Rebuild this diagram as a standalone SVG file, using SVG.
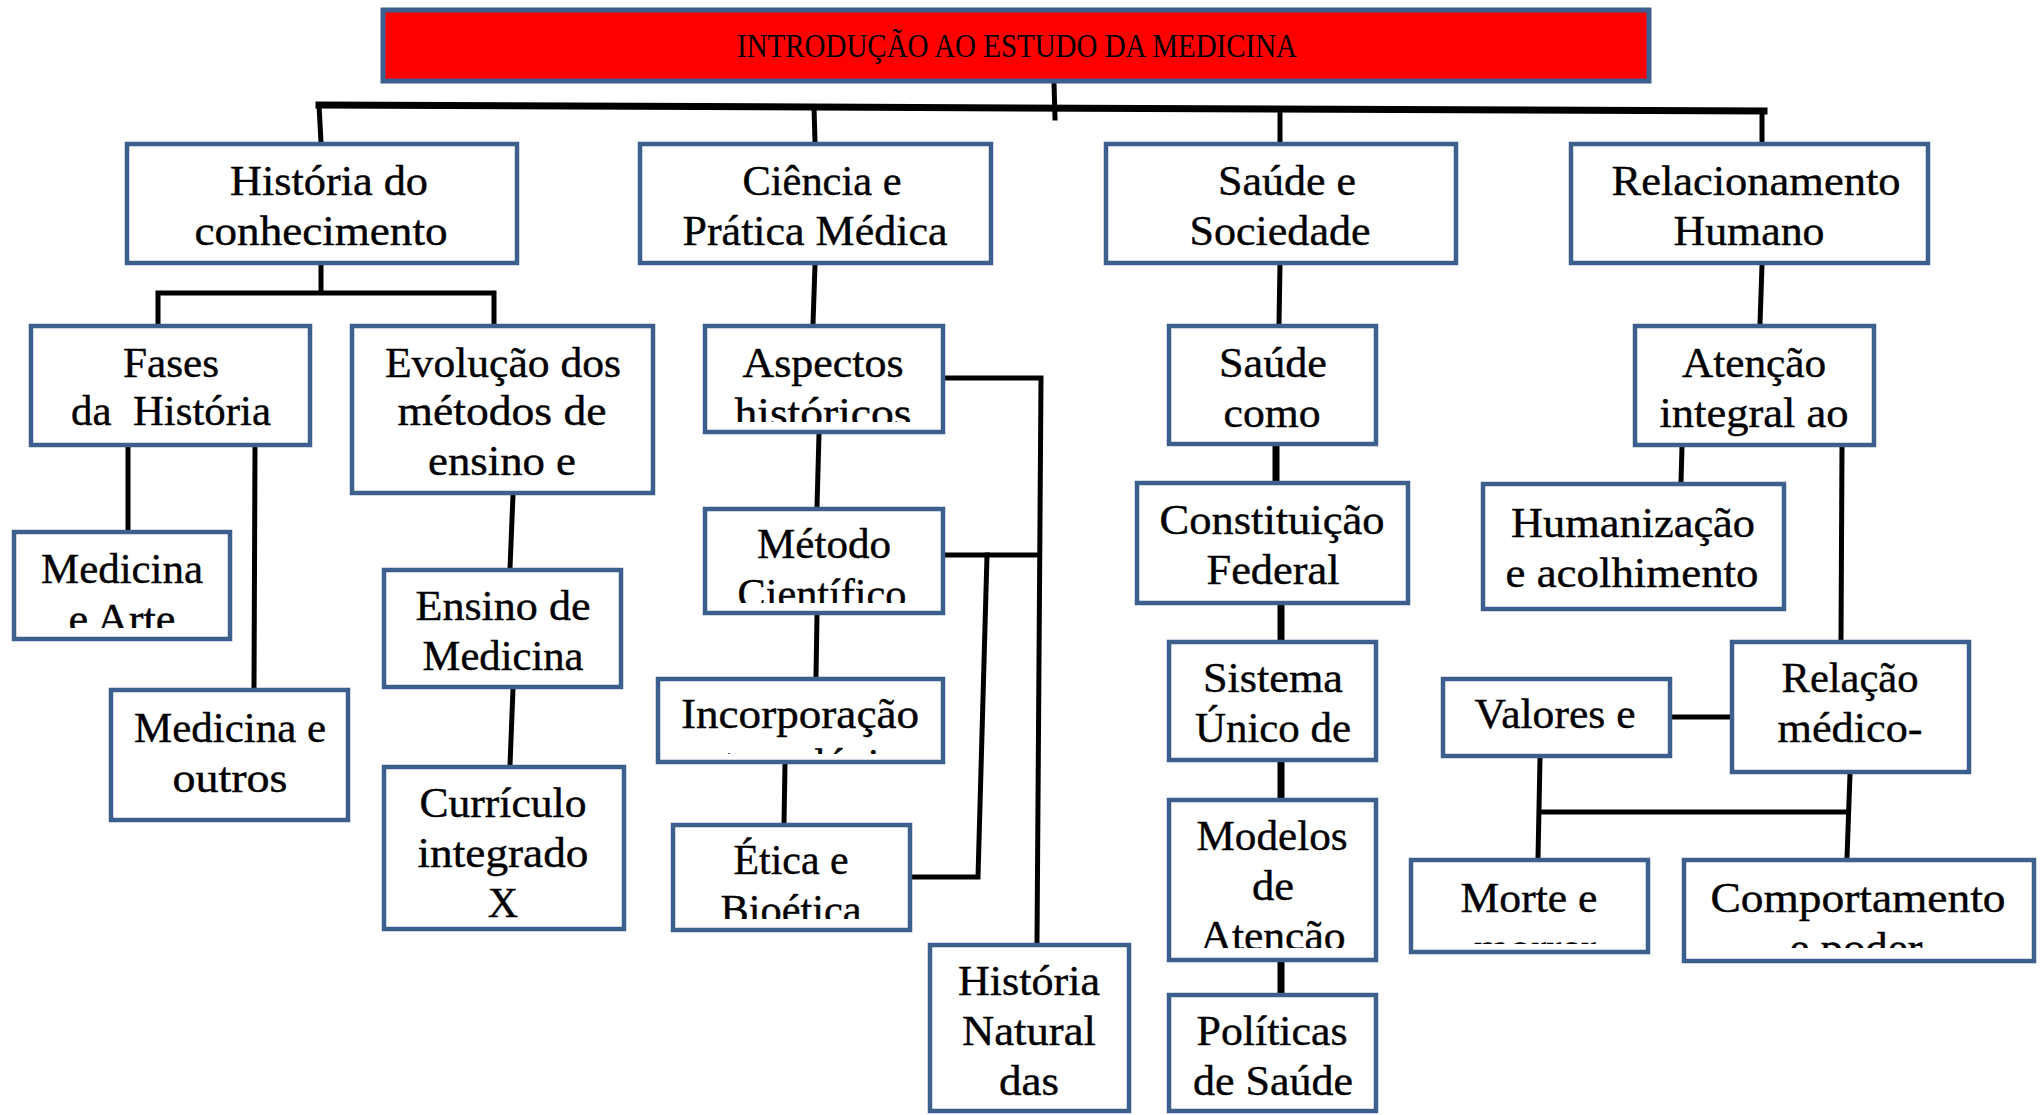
<svg xmlns="http://www.w3.org/2000/svg" width="2044" height="1115" viewBox="0 0 2044 1115">
<style>
.box{fill:#fff;stroke:#3d5f8d;stroke-width:4.5}
.title{fill:#ff0000;stroke:#3d5f8d;stroke-width:5}
.t{font-family:"Liberation Serif",serif;font-size:42px;fill:#000;text-anchor:middle;stroke:#000;stroke-width:0.4}
.tt{font-family:"Liberation Serif",serif;font-size:33px;fill:#000;text-anchor:middle}
.c{fill:none;stroke:#000;stroke-width:5;stroke-linecap:square;stroke-linejoin:miter}
.c7{stroke-width:7}
</style>
<defs>
<clipPath id="ck"><rect x="705" y="326" width="238" height="96"/></clipPath>
<clipPath id="cl"><rect x="705" y="509" width="238" height="94"/></clipPath>
<clipPath id="cm"><rect x="658" y="679" width="285" height="75"/></clipPath>
<clipPath id="cn"><rect x="673" y="825" width="237" height="94"/></clipPath>
<clipPath id="cg"><rect x="14" y="532" width="216" height="96"/></clipPath>
<clipPath id="cs"><rect x="1169" y="800" width="207" height="148"/></clipPath>
<clipPath id="cy"><rect x="1411" y="860" width="237" height="84"/></clipPath>
<clipPath id="cz"><rect x="1684" y="860" width="350" height="88"/></clipPath>
</defs>
<g id="connectors">
<path class="c c7" d="M319 105 L1764 111"/>
<path class="c" d="M1054 83 L1055 118"/>
<path class="c" d="M319 105 L321 142"/>
<path class="c" d="M814 107 L815 142"/>
<path class="c" d="M1280 109 L1280 142"/>
<path class="c" d="M1762 111 L1762 142"/>
<path class="c" d="M321 265 L321 293 M158 324 L158 293 L494 293 L494 324"/>
<path class="c" d="M128 447 L128 530"/>
<path class="c" d="M255 447 L254 688"/>
<path class="c" d="M513 495 L510 568"/>
<path class="c" d="M513 689 L510 765"/>
<path class="c" d="M815 265 L813 324"/>
<path class="c" d="M819 434 L817 507"/>
<path class="c" d="M817 615 L816 677"/>
<path class="c" d="M785 764 L784 823"/>
<path class="c" d="M945 378 L1041 378 L1037 943"/>
<path class="c" d="M945 555 L1039 555"/>
<path class="c" d="M987 555 L978 877 L912 877"/>
<path class="c" d="M1280 265 L1279 324"/>
<path class="c c7" d="M1276 446 L1276 481"/>
<path class="c c7" d="M1281 605 L1281 640"/>
<path class="c c7" d="M1281 762 L1281 798"/>
<path class="c c7" d="M1281 962 L1281 993"/>
<path class="c" d="M1762 265 L1760 324"/>
<path class="c" d="M1682 447 L1681 482"/>
<path class="c" d="M1842 447 L1841 640"/>
<path class="c" d="M1672 717 L1730 717"/>
<path class="c" d="M1540 758 L1538 858"/>
<path class="c" d="M1850 774 L1847 858"/>
<path class="c" d="M1540 812 L1848 812"/>
</g>
<g id="n-title"><rect class="title" x="383" y="10" width="1266" height="71"/><text class="tt" x="1017" y="57" textLength="560" lengthAdjust="spacingAndGlyphs">INTRODUÇÃO AO ESTUDO DA MEDICINA</text></g>
<g id="n-historia"><rect class="box" x="127" y="144" width="390" height="119"/><text class="t" x="329" y="195" textLength="198" lengthAdjust="spacingAndGlyphs">História do</text><text class="t" x="321" y="245" textLength="253" lengthAdjust="spacingAndGlyphs">conhecimento</text></g>
<g id="n-ciencia"><rect class="box" x="640" y="144" width="351" height="119"/><text class="t" x="822" y="195" textLength="159" lengthAdjust="spacingAndGlyphs">Ciência e</text><text class="t" x="815" y="245" textLength="265" lengthAdjust="spacingAndGlyphs">Prática Médica</text></g>
<g id="n-saude"><rect class="box" x="1106" y="144" width="350" height="119"/><text class="t" x="1287" y="195" textLength="138" lengthAdjust="spacingAndGlyphs">Saúde e</text><text class="t" x="1280" y="245" textLength="181" lengthAdjust="spacingAndGlyphs">Sociedade</text></g>
<g id="n-relac"><rect class="box" x="1571" y="144" width="357" height="119"/><text class="t" x="1756" y="195" textLength="289" lengthAdjust="spacingAndGlyphs">Relacionamento</text><text class="t" x="1749" y="245" textLength="151" lengthAdjust="spacingAndGlyphs">Humano</text></g>
<g id="n-fases"><rect class="box" x="31" y="326" width="279" height="119"/><text class="t" x="171" y="377" textLength="96" lengthAdjust="spacingAndGlyphs">Fases</text><text class="t" x="171" y="425" textLength="200" lengthAdjust="spacingAndGlyphs" xml:space="preserve">da  História</text></g>
<g id="n-evolucao"><rect class="box" x="352" y="326" width="301" height="167"/><text class="t" x="503" y="377" textLength="236" lengthAdjust="spacingAndGlyphs">Evolução dos</text><text class="t" x="502" y="425" textLength="209" lengthAdjust="spacingAndGlyphs">métodos de</text><text class="t" x="502" y="475" textLength="148" lengthAdjust="spacingAndGlyphs">ensino e</text></g>
<g id="n-medarte"><rect class="box" x="14" y="532" width="216" height="107"/><text class="t" x="122" y="583" textLength="162" lengthAdjust="spacingAndGlyphs">Medicina</text><text class="t" x="122" y="633" clip-path="url(#cg)" textLength="107" lengthAdjust="spacingAndGlyphs">e Arte</text></g>
<g id="n-medoutros"><rect class="box" x="111" y="690" width="237" height="130"/><text class="t" x="230" y="742" textLength="192" lengthAdjust="spacingAndGlyphs">Medicina e</text><text class="t" x="230" y="792" textLength="115" lengthAdjust="spacingAndGlyphs">outros</text></g>
<g id="n-ensino"><rect class="box" x="384" y="570" width="237" height="117"/><text class="t" x="503" y="620" textLength="175" lengthAdjust="spacingAndGlyphs">Ensino de</text><text class="t" x="503" y="670" textLength="161" lengthAdjust="spacingAndGlyphs">Medicina</text></g>
<g id="n-curriculo"><rect class="box" x="384" y="767" width="240" height="162"/><text class="t" x="503" y="817" textLength="167" lengthAdjust="spacingAndGlyphs">Currículo</text><text class="t" x="503" y="867" textLength="171" lengthAdjust="spacingAndGlyphs">integrado</text><text class="t" x="503" y="917">X</text></g>
<g id="n-aspectos"><rect class="box" x="705" y="326" width="238" height="106"/><text class="t" x="823" y="377" textLength="161" lengthAdjust="spacingAndGlyphs">Aspectos</text><text class="t" x="823" y="427" clip-path="url(#ck)" textLength="177" lengthAdjust="spacingAndGlyphs">históricos</text></g>
<g id="n-metodo"><rect class="box" x="705" y="509" width="238" height="104"/><text class="t" x="824" y="558" textLength="134" lengthAdjust="spacingAndGlyphs">Método</text><text class="t" x="822" y="608" clip-path="url(#cl)" textLength="169" lengthAdjust="spacingAndGlyphs">Científico</text></g>
<g id="n-incorp"><rect class="box" x="658" y="679" width="285" height="83"/><text class="t" x="800" y="728" textLength="238" lengthAdjust="spacingAndGlyphs">Incorporação</text><text class="t" x="820" y="778" clip-path="url(#cm)">tecnológica</text></g>
<g id="n-etica"><rect class="box" x="673" y="825" width="237" height="105"/><text class="t" x="791" y="874" textLength="115" lengthAdjust="spacingAndGlyphs">Ética e</text><text class="t" x="791" y="924" clip-path="url(#cn)" textLength="141" lengthAdjust="spacingAndGlyphs">Bioética</text></g>
<g id="n-histnat"><rect class="box" x="930" y="945" width="199" height="166"/><text class="t" x="1029" y="995" textLength="142" lengthAdjust="spacingAndGlyphs">História</text><text class="t" x="1029" y="1045" textLength="134" lengthAdjust="spacingAndGlyphs">Natural</text><text class="t" x="1029" y="1095" textLength="60" lengthAdjust="spacingAndGlyphs">das</text></g>
<g id="n-saudecomo"><rect class="box" x="1169" y="326" width="207" height="118"/><text class="t" x="1273" y="377" textLength="108" lengthAdjust="spacingAndGlyphs">Saúde</text><text class="t" x="1272" y="427" textLength="97" lengthAdjust="spacingAndGlyphs">como</text></g>
<g id="n-constituicao"><rect class="box" x="1137" y="483" width="271" height="120"/><text class="t" x="1272" y="534" textLength="225" lengthAdjust="spacingAndGlyphs">Constituição</text><text class="t" x="1273" y="584" textLength="133" lengthAdjust="spacingAndGlyphs">Federal</text></g>
<g id="n-sus"><rect class="box" x="1169" y="642" width="207" height="118"/><text class="t" x="1273" y="692" textLength="140" lengthAdjust="spacingAndGlyphs">Sistema</text><text class="t" x="1273" y="742" textLength="156" lengthAdjust="spacingAndGlyphs">Único de</text></g>
<g id="n-modelos"><rect class="box" x="1169" y="800" width="207" height="160"/><text class="t" x="1272" y="850" textLength="151" lengthAdjust="spacingAndGlyphs">Modelos</text><text class="t" x="1273" y="900" textLength="42" lengthAdjust="spacingAndGlyphs">de</text><text class="t" x="1273" y="950" clip-path="url(#cs)" textLength="145" lengthAdjust="spacingAndGlyphs">Atenção</text></g>
<g id="n-politicas"><rect class="box" x="1169" y="995" width="207" height="116"/><text class="t" x="1272" y="1045" textLength="151" lengthAdjust="spacingAndGlyphs">Políticas</text><text class="t" x="1273" y="1095" textLength="160" lengthAdjust="spacingAndGlyphs">de Saúde</text></g>
<g id="n-atencao"><rect class="box" x="1635" y="326" width="239" height="119"/><text class="t" x="1754" y="377" textLength="144" lengthAdjust="spacingAndGlyphs">Atenção</text><text class="t" x="1754" y="427" textLength="189" lengthAdjust="spacingAndGlyphs">integral ao</text></g>
<g id="n-humanizacao"><rect class="box" x="1483" y="484" width="301" height="125"/><text class="t" x="1633" y="537" textLength="244" lengthAdjust="spacingAndGlyphs">Humanização</text><text class="t" x="1632" y="587" textLength="253" lengthAdjust="spacingAndGlyphs">e acolhimento</text></g>
<g id="n-relacao"><rect class="box" x="1732" y="642" width="237" height="130"/><text class="t" x="1850" y="692" textLength="137" lengthAdjust="spacingAndGlyphs">Relação</text><text class="t" x="1850" y="742" textLength="145" lengthAdjust="spacingAndGlyphs">médico-</text></g>
<g id="n-valores"><rect class="box" x="1443" y="679" width="227" height="77"/><text class="t" x="1555" y="728" textLength="161" lengthAdjust="spacingAndGlyphs">Valores e</text></g>
<g id="n-morte"><rect class="box" x="1411" y="860" width="237" height="92"/><text class="t" x="1529" y="912" textLength="137" lengthAdjust="spacingAndGlyphs">Morte e</text><text class="t" x="1535" y="962" clip-path="url(#cy)" textLength="122" lengthAdjust="spacingAndGlyphs">morrer</text></g>
<g id="n-comport"><rect class="box" x="1684" y="860" width="350" height="101"/><text class="t" x="1858" y="912" textLength="295" lengthAdjust="spacingAndGlyphs">Comportamento</text><text class="t" x="1856" y="962" clip-path="url(#cz)" textLength="133" lengthAdjust="spacingAndGlyphs">e poder</text></g>
</svg>
